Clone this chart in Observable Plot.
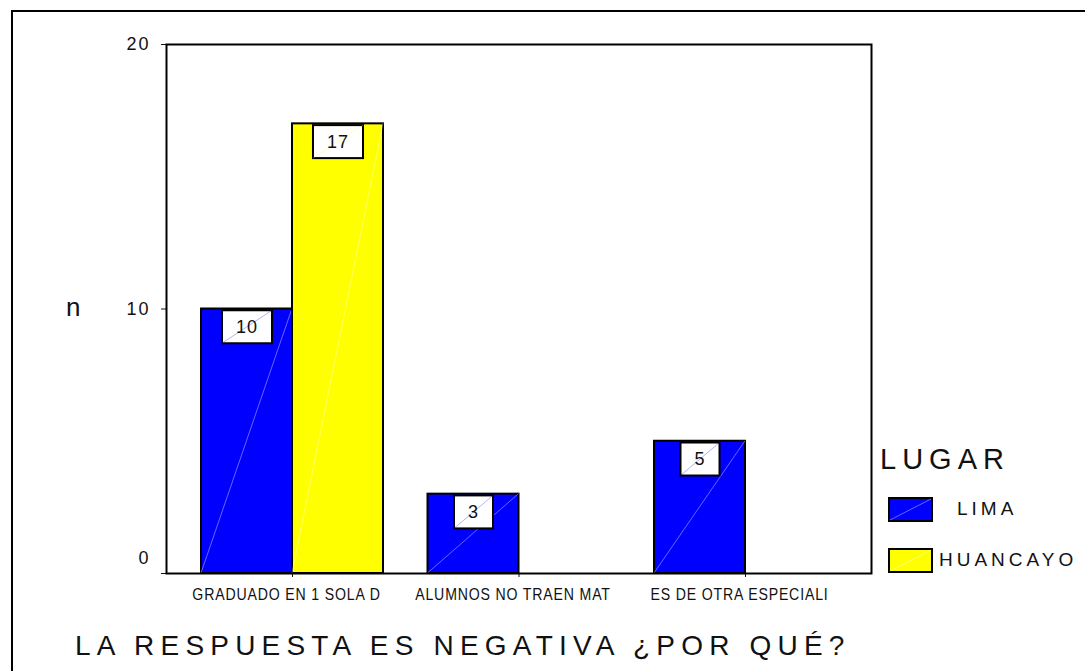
<!DOCTYPE html>
<html>
<head>
<meta charset="utf-8">
<script src="https://cdn.jsdelivr.net/npm/d3@7"></script>
<script src="https://cdn.jsdelivr.net/npm/@observablehq/plot@0.6"></script>
<style>
  html, body { margin: 0; padding: 0; background: #fff; }
  #wrap { position: relative; width: 1085px; height: 671px; overflow: hidden; background: #fff;
          font-family: "Liberation Sans", Arial, sans-serif; color: #111; }
  #outer { position: absolute; left: 11px; top: 10px; width: 1300px; height: 900px;
           border: 2px solid #000; box-sizing: border-box; }
  #chart { position: absolute; left: 0; top: 0; }
  #chart svg { overflow: visible; }
  .abs { position: absolute; white-space: nowrap; line-height: 1; }
  #title { left: 75px; top: 632px; font-size: 28px; letter-spacing: 6.2px; }
  #ylabel { left: 66px; top: 294px; font-size: 26px; }
  #legtitle { left: 880px; top: 445px; font-size: 29px; letter-spacing: 6px; }
  .legswatch { position: absolute; }
  .leglabel { position: absolute; font-size: 19px; letter-spacing: 4px; line-height: 1; white-space: nowrap; }
  g[aria-label="x-axis tick label"] text, g[aria-label="x-axis"] text {
    font-size: 17px; letter-spacing: 1px; }
  g[aria-label="y-axis tick label"] text, g[aria-label="y-axis"] text {
    font-size: 18px; letter-spacing: 2px; }
  g[aria-label="text"] text { letter-spacing: 1px; }
</style>
</head>
<body>
<div id="wrap">
  <div id="outer"></div>
  <div id="chart"></div>
  <div id="title" class="abs"></div>
  <div id="ylabel" class="abs"></div>
  <div id="legtitle" class="abs"></div>
  <div id="legend"></div>
</div>
<script>
// ---- data ----
const categories = ["GRADUADO EN 1 SOLA D", "ALUMNOS NO TRAEN MAT", "ES DE OTRA ESPECIALI"];
const series = ["LIMA", "HUANCAYO"];
const limaValues = [10, 3, 5];
const huancayoValues = [17, 0, 0];
const seriesColors = ["#0000ff", "#ffff00"];
const yTicks = [0, 10, 20];
const titleText = "LA RESPUESTA ES NEGATIVA ¿POR QUÉ?";
const yLabelText = "n";
const legendTitleText = "LUGAR";

// ---- layout ----
const W = 1085, H = 671;
const margin = {left: 166, right: 214, top: 44, bottom: 98};
const padIn = 0.1965, padOut = 0.1545;
const innerW = W - margin.left - margin.right;
const step = innerW / (categories.length - padIn + 2 * padOut);
const bw = step * (1 - padIn);

const valuesBySeries = [limaValues, huancayoValues];
const rows = categories.flatMap((c, i) => series.map((s, j) => ({cat: c, lugar: s, n: valuesBySeries[j][i]})))
  .filter(d => d.n > 0);

const marks = [];
series.forEach((s, j) => {
  marks.push(Plot.barY(rows.filter(d => d.lugar === s), {
    x: "cat", y: "n", fill: "lugar", stroke: "#000", strokeWidth: 2,
    insetLeft: j === 0 ? 0 : bw / 2, insetRight: j === 0 ? bw / 2 : 0
  }));
});
series.forEach((s, j) => {
  marks.push(Plot.text(rows.filter(d => d.lugar === s), {
    x: "cat", y: "n", text: d => String(d.n),
    dx: (j === 0 ? -1 : 1) * bw / 4, dy: 18, fontSize: 18, fill: "#111"
  }));
});
marks.push(Plot.frame({stroke: "#000", strokeWidth: 2}));

const chart = Plot.plot({
  width: W, height: H,
  marginLeft: margin.left, marginRight: margin.right, marginTop: margin.top, marginBottom: margin.bottom,
  style: {fontFamily: "'Liberation Sans', Arial, sans-serif", fontSize: "16px", color: "#111", background: "transparent"},
  x: {domain: categories, paddingInner: padIn, paddingOuter: padOut, round: false, label: null, tickSize: 4, tickPadding: 10},
  y: {domain: [0, 20], ticks: yTicks, tickSize: 5, tickPadding: 11, label: null},
  color: {domain: series, range: seriesColors},
  marks
});
document.getElementById("chart").append(chart);

// boxes behind value labels + faint diagonals (derived from rendered marks)
const NS = "http://www.w3.org/2000/svg";
const barGroups = chart.querySelectorAll('g[aria-label="bar"]');
const textGroups = chart.querySelectorAll('g[aria-label="text"]');
series.forEach((s, j) => {
  if (barGroups[j]) barGroups[j].querySelectorAll("rect").forEach(r => {
    const x = +r.getAttribute("x"), y = +r.getAttribute("y"), w = +r.getAttribute("width"), h = +r.getAttribute("height");
    const ln = document.createElementNS(NS, "line");
    ln.setAttribute("x1", x); ln.setAttribute("y1", y + h);
    ln.setAttribute("x2", x + w); ln.setAttribute("y2", y);
    ln.setAttribute("stroke", "#fff"); ln.setAttribute("stroke-opacity", 0.4); ln.setAttribute("stroke-width", 1);
    if (r.getAttribute("transform")) ln.setAttribute("transform", r.getAttribute("transform"));
    r.parentNode.appendChild(ln);
  });
  if (textGroups[j]) textGroups[j].querySelectorAll("text").forEach(t => {
    const b = t.getBBox();
    const tf = t.getAttribute("transform");
    const cx = b.x + b.width / 2, cy = b.y + b.height / 2;
    const bwid = b.width + 28, bh = 33;
    const rect = document.createElementNS(NS, "rect");
    rect.setAttribute("x", cx - bwid / 2); rect.setAttribute("y", cy - bh / 2);
    rect.setAttribute("width", bwid); rect.setAttribute("height", bh);
    rect.setAttribute("fill", "#fff"); rect.setAttribute("stroke", "#000"); rect.setAttribute("stroke-width", 2);
    if (tf) rect.setAttribute("transform", tf);
    t.parentNode.insertBefore(rect, t);
    const ln = document.createElementNS(NS, "line");
    ln.setAttribute("x1", cx - bwid / 2); ln.setAttribute("y1", cy + bh / 2);
    ln.setAttribute("x2", cx + bwid / 2); ln.setAttribute("y2", cy - bh / 2);
    ln.setAttribute("stroke", seriesColors[j]); ln.setAttribute("stroke-opacity", 0.3); ln.setAttribute("stroke-width", 1);
    if (tf) ln.setAttribute("transform", tf);
    t.parentNode.insertBefore(ln, t);
  });
});

// condensed category labels, nudged left like the original
chart.querySelectorAll('g[aria-label="x-axis tick label"] text').forEach(t => {
  const len = t.getComputedTextLength();
  t.setAttribute("textLength", (len * 0.83).toFixed(1));
  t.setAttribute("lengthAdjust", "spacingAndGlyphs");
  t.setAttribute("dx", -6);
});
// bottom y tick label sits a bit higher in the original
chart.querySelectorAll('g[aria-label="y-axis tick label"] text').forEach(t => {
  if (t.textContent.trim() === String(yTicks[0])) t.setAttribute("y", (+t.getAttribute("y") || 0) - 10);
});

// texts
document.getElementById("title").textContent = titleText;
document.getElementById("ylabel").textContent = yLabelText;
document.getElementById("legtitle").textContent = legendTitleText;

// legend
const legend = d3.select("#legend");
const swatchTops = [497, 548];
const labelLefts = [957, 939];
series.forEach((s, j) => {
  const sw = legend.append("svg").attr("class", "legswatch")
    .attr("width", 45).attr("height", 25)
    .style("left", "888px").style("top", swatchTops[j] + "px");
  sw.append("rect").attr("x", 1).attr("y", 1).attr("width", 43).attr("height", 23)
    .attr("fill", seriesColors[j]).attr("stroke", "#000").attr("stroke-width", 2);
  sw.append("line").attr("x1", 2).attr("y1", 23).attr("x2", 43).attr("y2", 2)
    .attr("stroke", "#fff").attr("stroke-opacity", 0.4);
  legend.append("div").attr("class", "leglabel")
    .style("left", labelLefts[j] + "px").style("top", (swatchTops[j] + 2) + "px")
    .text(s);
});
</script>
</body>
</html>
